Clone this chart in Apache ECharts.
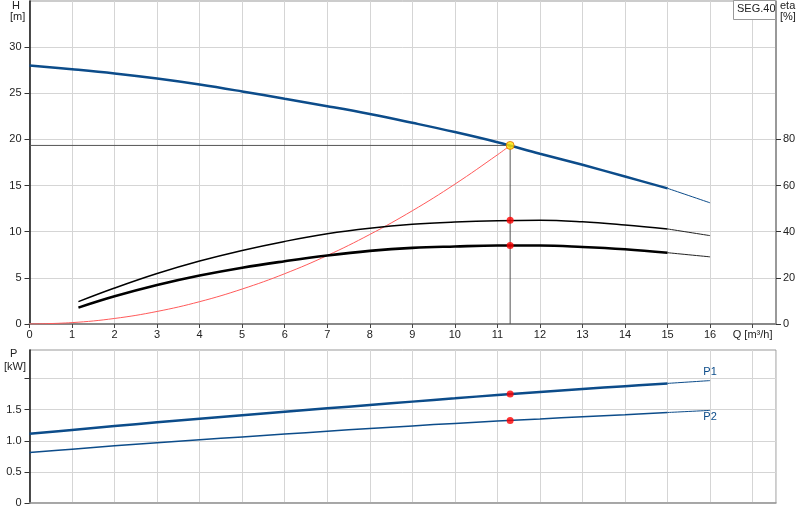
<!DOCTYPE html>
<html>
<head>
<meta charset="utf-8">
<script src="https://cdn.jsdelivr.net/npm/echarts@6/dist/echarts.min.js"></script>
<style>
html,body{margin:0;padding:0;background:#fff;}
#c{width:800px;height:520px;}
</style>
</head>
<body>
<div id="c"></div>
<script>
// ---- data ----
const qCurve = [0,1,2,3,4,5,6,7,8,9,10,11,12,13,14,15,16];
const headH  = [28.0,27.6,27.15,26.6,25.95,25.2,24.4,23.6,22.75,21.8,20.8,19.7,18.45,17.25,15.98,14.7,13.13];
const qEta   = [1.15,2,3,4,5,6,7,8,9,10,11,12,13,14,15,16];
const etaPump  = [9.7,15.6,21.9,27.3,31.9,35.8,39.1,41.5,43.2,44.2,44.8,45.0,44.3,42.9,41.2,38.3];
const etaTotal = [7.1,12.0,16.9,21.0,24.4,27.2,29.7,31.7,33.0,33.6,34.0,34.0,33.4,32.4,30.9,29.1];
const powerP1 = [1.115,1.175,1.237,1.297,1.355,1.412,1.468,1.522,1.576,1.63,1.683,1.737,1.785,1.832,1.878,1.923,1.968];
const powerP2 = [0.812,0.866,0.919,0.968,1.016,1.062,1.108,1.154,1.199,1.24,1.28,1.318,1.352,1.386,1.42,1.455,1.489];
const qSystem = [0,1,2,3,4,5,6,7,8,9,10,11,11.3];
const hSystem = [0,0.15,0.6,1.36,2.42,3.79,5.45,7.42,9.7,12.27,15.15,18.33,19.35];
const opQ = 11.3, opH = 19.35, opEtaPump = 45.0, opEtaTotal = 34.0, opP1 = 1.751, opP2 = 1.328;
const thickEnd = 15;
const xTicks = [0,1,2,3,4,5,6,7,8,9,10,11,12,13,14,15,16,17];
const hTicks = [0,5,10,15,20,25,30];
const etaTicks = [0,20,40,60,80];
const pTicks = [0,0.5,1,1.5,2];
const pLabels = [0,0.5,1,1.5];
const xUnit = 'Q [m³/h]';

// ---- helpers ----
const zip = (xs, ys) => xs.map((x,i)=>[x, ys[i]]);
const part = (pts, thick) => pts.filter(p => thick ? p[0] <= thickEnd : p[0] >= thickEnd);

const FONT = 'Liberation Sans, Arial, sans-serif';
const BLUE = '#0c4c8a';
const GRID = '#d5d5d5';
const txt = {color:'#222', fontSize:11, fontFamily:FONT};

function lineSeries(name, pts, color, width, xi, yi, extra){
  return Object.assign({
    name, type:'line', xAxisIndex:xi, yAxisIndex:yi, data:pts,
    smooth:0.4, symbol:'none', lineStyle:{color, width}, itemStyle:{color},
    silent:true, z:3
  }, extra||{});
}

const hPts = zip(qCurve, headH);
const e1Pts = zip(qEta, etaPump);
const e2Pts = zip(qEta, etaTotal);
const p1Pts = zip(qCurve, powerP1);
const p2Pts = zip(qCurve, powerP2);

function withEndLabel(pts, text, pos, dist){
  return pts.map((p,i,a)=> i===a.length-1
    ? {value:p, label:{show:true, position:pos, distance:dist, formatter:text, color:BLUE, fontSize:11, fontFamily:FONT}}
    : {value:p, label:{show:false}});
}
const labelSeriesExtra = {symbol:'circle', symbolSize:0.01, showSymbol:true, showAllSymbol:true};

const xAxisCommon = {
  type:'value', min:0, max:17.55, interval:1,
  splitLine:{show:true, lineStyle:{color:GRID, width:1}}
};

const option = {
  animation:false,
  backgroundColor:'#fff',
  grid:[
    {left:29.5, right:24, top:1, height:323, show:true, borderColor:'#999', borderWidth:1, backgroundColor:'#fff'},
    {left:29.5, right:24, top:350, height:153, show:true, borderColor:'#999', borderWidth:1, backgroundColor:'#fff'}
  ],
  xAxis:[
    Object.assign({}, xAxisCommon, {
      gridIndex:0,
      axisLine:{show:true, onZero:false, lineStyle:{color:'#888', width:2}},
      axisTick:{show:true, length:4, customValues:xTicks, lineStyle:{color:'#444'}},
      axisLabel:Object.assign({}, txt, {margin:5, customValues:xTicks, formatter:v => v===17 ? xUnit : String(v)})
    }),
    Object.assign({}, xAxisCommon, {
      gridIndex:1,
      axisLine:{show:true, onZero:false, lineStyle:{color:'#999', width:1.5}},
      axisTick:{show:false}, axisLabel:{show:false}
    })
  ],
  yAxis:[
    {gridIndex:0, type:'value', min:0, max:35, interval:5, position:'left',
     axisLine:{show:true, onZero:false, lineStyle:{color:'#111', width:1.5}},
     axisTick:{show:true, length:5, customValues:hTicks, lineStyle:{color:'#333'}},
     axisLabel:Object.assign({}, txt, {margin:8, customValues:hTicks}),
     splitLine:{show:true, lineStyle:{color:GRID, width:1}}},
    {gridIndex:0, type:'value', min:0, max:140, interval:20, position:'right',
     axisLine:{show:true, onZero:false, lineStyle:{color:'#888', width:1.5}},
     axisTick:{show:true, length:5, customValues:etaTicks, lineStyle:{color:'#333'}},
     axisLabel:Object.assign({}, txt, {margin:7, customValues:etaTicks}),
     splitLine:{show:false}},
    {gridIndex:1, type:'value', min:0, max:2.46, interval:0.5, position:'left',
     axisLine:{show:true, onZero:false, lineStyle:{color:'#111', width:1.5}},
     axisTick:{show:true, length:5, customValues:pTicks, lineStyle:{color:'#333'}},
     axisLabel:Object.assign({}, txt, {margin:8, customValues:pLabels, formatter:v => v===0 ? '0' : v.toFixed(1)}),
     splitLine:{show:true, lineStyle:{color:GRID, width:1}}}
  ],
  series:[
    // operating point guide lines
    lineSeries('op', [[0,opH],[opQ,opH],[opQ,0]], '#555', 1, 0, 0, {smooth:false, z:2}),
    // system curve
    lineSeries('system', zip(qSystem, hSystem), '#ff5a5a', 1, 0, 0, {z:2}),
    // head curve
    lineSeries('H', part(hPts,true), BLUE, 2.5, 0, 0),
    lineSeries('H thin', part(hPts,false), BLUE, 1, 0, 0),
    // efficiencies
    lineSeries('eta pump', part(e1Pts,true), '#000', 1.5, 0, 1),
    lineSeries('eta pump thin', part(e1Pts,false), '#222', 1, 0, 1),
    lineSeries('eta total', part(e2Pts,true), '#000', 2.6, 0, 1),
    lineSeries('eta total thin', part(e2Pts,false), '#222', 1, 0, 1),
    // power
    lineSeries('P1', part(p1Pts,true), BLUE, 2.5, 1, 2),
    lineSeries('P1 thin', withEndLabel(part(p1Pts,false),'P1','top',3), BLUE, 1, 1, 2, labelSeriesExtra),
    lineSeries('P2', part(p2Pts,true), BLUE, 1.5, 1, 2),
    lineSeries('P2 thin', withEndLabel(part(p2Pts,false),'P2','bottom',1), BLUE, 1, 1, 2, labelSeriesExtra),
    // points
    {type:'scatter', xAxisIndex:0, yAxisIndex:1, data:[[opQ,opEtaPump],[opQ,opEtaTotal]], symbolSize:7, itemStyle:{color:'#ff0000'}, z:5, silent:true},
    {type:'scatter', xAxisIndex:1, yAxisIndex:2, data:[[opQ,opP1],[opQ,opP2]], symbolSize:7, itemStyle:{color:'#ff0000'}, z:5, silent:true},
    {type:'scatter', xAxisIndex:0, yAxisIndex:0, data:[[opQ,opH]], symbolSize:8, itemStyle:{color:'#ffe600', borderColor:'#e07000', borderWidth:1}, z:6, silent:true}
  ],
  graphic:[
    {type:'text', left:12, top:0, style:{text:'H', fill:'#222', font:'11px '+FONT}},
    {type:'text', left:10, top:11, style:{text:'[m]', fill:'#222', font:'11px '+FONT}},
    {type:'text', left:780, top:0, style:{text:'eta', fill:'#222', font:'11px '+FONT}},
    {type:'text', left:780, top:11, style:{text:'[%]', fill:'#222', font:'11px '+FONT}},
    {type:'text', left:10, top:348, style:{text:'P', fill:'#222', font:'11px '+FONT}},
    {type:'text', left:4, top:361, style:{text:'[kW]', fill:'#222', font:'11px '+FONT}},
    {type:'rect', left:733, top:0, shape:{width:42, height:19}, style:{fill:'#fff', stroke:'#999', lineWidth:1}, z:10},
    {type:'text', left:737, top:3, style:{text:'SEG.40', fill:'#222', font:'11px '+FONT}, z:11}
  ]
};

const chart = echarts.init(document.getElementById('c'), null, {renderer:'canvas'});
chart.setOption(option);
</script>
</body>
</html>
